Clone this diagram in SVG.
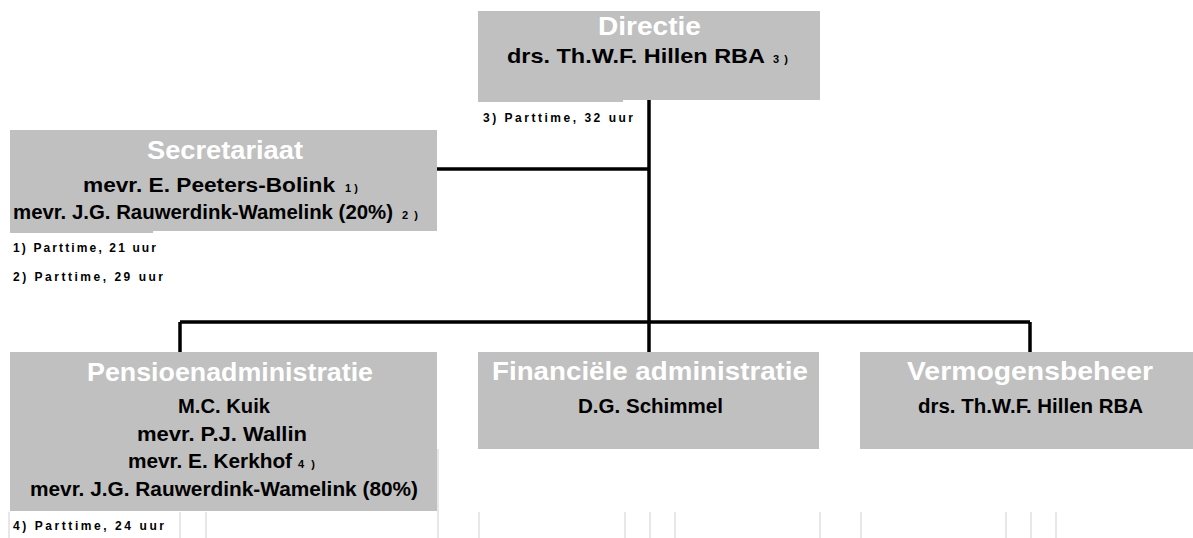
<svg xmlns="http://www.w3.org/2000/svg" width="1193" height="538" viewBox="0 0 1193 538">
<style>
.box{fill:#c0c0c0}
text{font-family:"Liberation Sans",Arial,sans-serif;font-weight:bold}
.t{fill:#fff;font-size:26px}
.n{fill:#000;font-size:20px}
.s{fill:#000;font-size:11px}
.f{fill:#000;font-size:12px}
.ln{stroke:#000;stroke-width:3.5;fill:none}
.fl{stroke:#e0e0e0;stroke-width:1.5;fill:none}
</style>
<rect width="1193" height="538" fill="#fff"/>
<g id="grid">
<path class="fl" d="M9 512V538M180 512V538M206 512V538M438 449V538M479 512V538M625 512V538M650 512V538M675 512V538M820 512V538M861 512V538M1006 512V538M1031 512V538M1056 512V538"/>
</g>
<g id="connectors">
<path class="ln" d="M649 100V322M437 169H649M180 322H1030M180 322V352M649 322V352M1030 322V352"/>
</g>
<g id="directie">
<rect class="box" x="478" y="11" width="342" height="89"/>
<rect class="box" x="478" y="99" width="145" height="3"/>
<text class="t" x="598" y="35" textLength="103" lengthAdjust="spacingAndGlyphs">Directie</text>
<text class="n" x="507" y="63" textLength="258" lengthAdjust="spacingAndGlyphs" style="font-size:21px">drs. Th.W.F. Hillen RBA</text>
<text class="s" x="773" y="63" textLength="15" lengthAdjust="spacing">3)</text>
<text class="f" x="483" y="122" textLength="150" lengthAdjust="spacing">3) Parttime, 32 uur</text>
</g>
<g id="secretariaat">
<rect class="box" x="10" y="130" width="427" height="101"/>
<rect class="box" x="10" y="230" width="143" height="3"/>
<text class="t" x="147" y="159" textLength="156" lengthAdjust="spacingAndGlyphs">Secretariaat</text>
<text class="n" x="83" y="192" textLength="252" lengthAdjust="spacingAndGlyphs">mevr. E. Peeters-Bolink</text>
<text class="s" x="345" y="192" textLength="13" lengthAdjust="spacing">1)</text>
<text class="n" x="13" y="219" textLength="380" lengthAdjust="spacingAndGlyphs">mevr. J.G. Rauwerdink-Wamelink (20%)</text>
<text class="s" x="402" y="219" textLength="16" lengthAdjust="spacing">2)</text>
<text class="f" x="13" y="252" textLength="143" lengthAdjust="spacing">1) Parttime, 21 uur</text>
<text class="f" x="13" y="281" textLength="150" lengthAdjust="spacing">2) Parttime, 29 uur</text>
</g>
<g id="pensioenadministratie">
<rect class="box" x="10" y="352" width="427" height="159"/>
<text class="t" x="87" y="381" textLength="286" lengthAdjust="spacingAndGlyphs">Pensioenadministratie</text>
<text class="n" x="178" y="413" textLength="92" lengthAdjust="spacingAndGlyphs">M.C. Kuik</text>
<text class="n" x="137" y="441" textLength="170" lengthAdjust="spacingAndGlyphs">mevr. P.J. Wallin</text>
<text class="n" x="128" y="468" textLength="164" lengthAdjust="spacingAndGlyphs">mevr. E. Kerkhof</text>
<text class="s" x="298" y="468" textLength="17" lengthAdjust="spacing">4)</text>
<text class="n" x="30" y="496" textLength="388" lengthAdjust="spacingAndGlyphs">mevr. J.G. Rauwerdink-Wamelink (80%)</text>
<text class="f" x="13" y="530" textLength="151" lengthAdjust="spacing">4) Parttime, 24 uur</text>
</g>
<g id="financiele">
<rect class="box" x="478" y="352" width="341" height="97"/>
<text class="t" x="492" y="380" textLength="316" lengthAdjust="spacingAndGlyphs">Financiële administratie</text>
<text class="n" x="578" y="413" textLength="145" lengthAdjust="spacingAndGlyphs">D.G. Schimmel</text>
</g>
<g id="vermogensbeheer">
<rect class="box" x="860" y="352" width="333" height="97"/>
<text class="t" x="907" y="380" textLength="246" lengthAdjust="spacingAndGlyphs">Vermogensbeheer</text>
<text class="n" x="918" y="413" textLength="225" lengthAdjust="spacingAndGlyphs">drs. Th.W.F. Hillen RBA</text>
</g>
</svg>
